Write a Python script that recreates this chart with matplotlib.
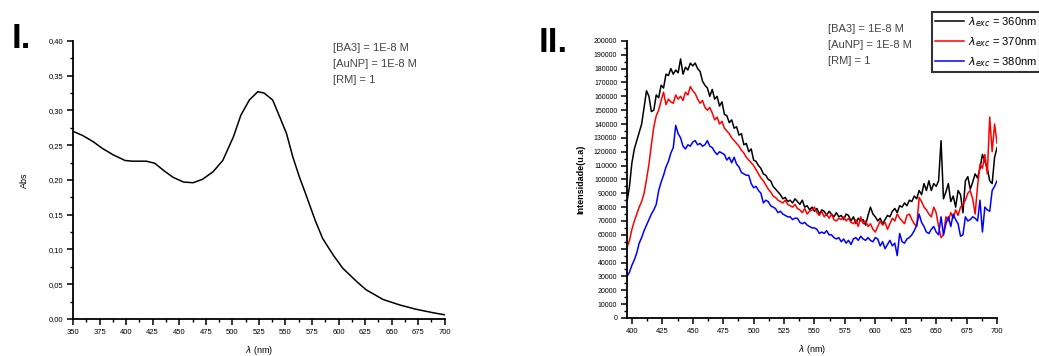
import matplotlib
matplotlib.use("Agg")
import matplotlib.pyplot as plt
import numpy as np
from matplotlib.ticker import MultipleLocator, FuncFormatter

plt.rcParams['font.family'] = ['Liberation Sans', 'DejaVu Sans']

# ---------------- Panel I data (absorbance) ----------------
abs_wl = [350, 359, 369, 378, 388, 399, 406, 419, 427, 435, 444, 454, 463, 472,
          482, 491, 501, 508, 516, 524, 530, 538, 544, 551, 557, 563, 570, 578,
          585, 595, 604, 617, 626, 642, 658, 673, 689, 700]
abs_val = [0.270, 0.264, 0.255, 0.245, 0.236, 0.228, 0.227, 0.227, 0.224, 0.214,
           0.204, 0.197, 0.196, 0.201, 0.212, 0.228, 0.262, 0.293, 0.315, 0.327,
           0.325, 0.315, 0.293, 0.267, 0.233, 0.205, 0.176, 0.142, 0.116, 0.092,
           0.073, 0.054, 0.042, 0.028, 0.020, 0.014, 0.009, 0.006]

# ---------------- Panel II data (fluorescence, intensity in thousands) ----------------
em_wl = list(range(396, 701, 2))   # emission wavelengths (nm)

int_360_k = [84, 95, 112, 122, 128, 134, 140, 152, 164, 160,
             149, 150, 161, 159, 168, 166, 176, 175, 180, 176,
             179, 177, 187, 176, 181, 179, 184, 182, 184, 180,
             178, 171, 168, 166, 160, 165, 158, 160, 153, 156,
             147, 146, 141, 143, 137, 138, 132, 133, 125, 126,
             120, 122, 114, 113, 110, 108, 104, 103, 100, 99,
             95, 93, 91, 89, 86, 87, 84, 85, 83, 86,
             84, 82, 85, 80, 81, 78, 80, 77, 79, 75,
             78, 77, 74, 77, 75, 73, 76, 73, 74, 71,
             75, 74, 70, 73, 68, 72, 70, 71, 67, 74,
             80, 75, 73, 70, 72, 68, 71, 74, 73, 77,
             79, 76, 81, 80, 83, 81, 85, 84, 88, 86,
             92, 89, 97, 92, 99, 92, 97, 95, 99, 128,
             86, 91, 97, 84, 88, 80, 92, 89, 76, 99,
             102, 93, 98, 104, 101, 108, 118, 113, 108, 99,
             97, 116, 123]

int_370_k = [51, 56, 64, 70, 75, 80, 84, 90, 100, 111,
             125, 138, 146, 150, 157, 163, 154, 158, 156, 155,
             161, 158, 160, 157, 163, 161, 167, 164, 162, 158,
             155, 157, 152, 150, 152, 148, 143, 145, 140, 142,
             137, 135, 133, 130, 128, 126, 124, 121, 119, 116,
             114, 112, 110, 107, 104, 101, 99, 96, 93, 91,
             88, 87, 85, 84, 83, 85, 82, 81, 80, 82,
             79, 78, 76, 79, 75, 77, 78, 80, 76, 74,
             77, 73, 75, 72, 75, 71, 70, 72, 71, 73,
             70, 72, 69, 68, 71, 66, 73, 68, 70, 66,
             68, 64, 62, 66, 70, 67, 69, 64, 68, 72,
             70, 75, 72, 70, 68, 74, 75, 71, 68, 66,
             87, 84, 80, 78, 75, 73, 80, 76, 66, 58,
             60, 73, 70, 76, 72, 78, 74, 80, 82, 85,
             90, 92, 86, 75, 95, 111, 108, 118, 104, 145,
             120, 140, 126]

int_380_k = [30, 33, 38, 42, 47, 54, 58, 63, 67, 71,
             75, 78, 82, 92, 98, 103, 109, 113, 119, 123,
             139, 133, 130, 124, 122, 125, 124, 127, 128, 125,
             126, 124, 125, 128, 124, 123, 120, 118, 120, 119,
             118, 114, 116, 112, 116, 111, 109, 105, 104, 103,
             103, 97, 94, 95, 92, 90, 83, 85, 84, 81,
             80, 79, 76, 77, 75, 74, 73, 73, 71, 72,
             72, 69, 68, 69, 67, 66, 65, 65, 64, 61,
             62, 61, 63, 60, 60, 58, 57, 58, 55, 57,
             54, 56, 53, 57, 58, 56, 59, 57, 56, 58,
             56, 55, 58, 57, 52, 55, 50, 53, 56, 52,
             54, 45, 61, 55, 54, 57, 58, 60, 63, 67,
             75, 69, 66, 62, 61, 64, 66, 62, 60, 73,
             60, 68, 73, 66, 75, 71, 68, 59, 60, 73,
             70, 71, 73, 72, 70, 85, 62, 80, 78, 77,
             92, 95, 99]

series_labels = [r'$\lambda_{exc}$ = 360nm', r'$\lambda_{exc}$ = 370nm',
                 r'$\lambda_{exc}$ = 380nm']
series_colors = ['black', 'red', 'blue']
conc_text = "[BA3] = 1E-8 M\n[AuNP] = 1E-8 M\n[RM] = 1"

# ---------------- Figure ----------------
fig = plt.figure(figsize=(10.39, 3.56), dpi=100)
ax1 = fig.add_axes([0.0703, 0.104, 0.3577, 0.781])
ax2 = fig.add_axes([0.6035, 0.107, 0.3561, 0.778])


def style(ax):
    for s in ['top', 'right']:
        ax.spines[s].set_visible(False)
    for s in ['left', 'bottom']:
        ax.spines[s].set_linewidth(1.3)
    ax.tick_params(which='major', direction='out', length=4, width=1.1,
                   labelsize=5.5, pad=3)
    ax.tick_params(which='minor', direction='out', length=2.5, width=1.0)


# Panel I
ax1.plot(abs_wl, abs_val, color='black', lw=1.1)
ax1.set_xlim(350, 700)
ax1.set_ylim(0, 0.40)
ax1.xaxis.set_major_locator(MultipleLocator(25))
ax1.xaxis.set_minor_locator(MultipleLocator(12.5))
ax1.yaxis.set_major_locator(MultipleLocator(0.05))
ax1.yaxis.set_minor_locator(MultipleLocator(0.025))
ax1.yaxis.set_major_formatter(FuncFormatter(lambda v, p: f"{v:.2f}".replace('.', ',')))
style(ax1)
ax1.set_ylabel('Abs', fontsize=6.5, labelpad=14)
ax1.set_xlabel(r'$\lambda$ (nm)', fontsize=6.5, labelpad=6)
fig.text(333 / 1039, 1 - 43 / 356, conc_text, fontsize=8, va='top', ha='left',
         color='#444444', linespacing=1.75)
fig.text(12 / 1039, 1 - 55 / 356, 'I.', fontsize=25, fontweight='bold',
         va='bottom', ha='left')

# Panel II
lines = []
for iv, c, lab in zip([int_360_k, int_370_k, int_380_k], series_colors, series_labels):
    ln, = ax2.plot(em_wl, np.asarray(iv) * 1000, color=c, lw=1.1, label=lab)
    lines.append(ln)
ax2.set_xlim(396, 700)
ax2.set_ylim(0, 200000)
ax2.xaxis.set_major_locator(MultipleLocator(25))
ax2.xaxis.set_minor_locator(MultipleLocator(12.5))
ax2.yaxis.set_major_locator(MultipleLocator(10000))
ax2.yaxis.set_minor_locator(MultipleLocator(5000))
ax2.yaxis.set_major_formatter(FuncFormatter(lambda v, p: f"{int(v)}"))
style(ax2)
ax2.tick_params(axis='y', labelsize=5)
ax2.set_ylabel('Intensidade(u.a)', fontsize=6.5, labelpad=6, fontweight='bold')
ax2.set_xlabel(r'$\lambda$ (nm)', fontsize=6.5, labelpad=6)
fig.text(828 / 1039, 1 - 24 / 356, conc_text, fontsize=8, va='top', ha='left',
         color='#444444', linespacing=1.75)
fig.text(539 / 1039, 1 - 59 / 356, 'II.', fontsize=25, fontweight='bold',
         va='bottom', ha='left')

leg = fig.legend(handles=lines, loc='upper left',
                 bbox_to_anchor=(932 / 1039, 1 - 12 / 356), fontsize=8,
                 frameon=True, fancybox=False, edgecolor='black',
                 handlelength=2.6, handletextpad=0.3, borderpad=0.3,
                 labelspacing=0.55, borderaxespad=0)
leg.get_frame().set_linewidth(1.5)

fig.savefig('out.png', dpi=100)
